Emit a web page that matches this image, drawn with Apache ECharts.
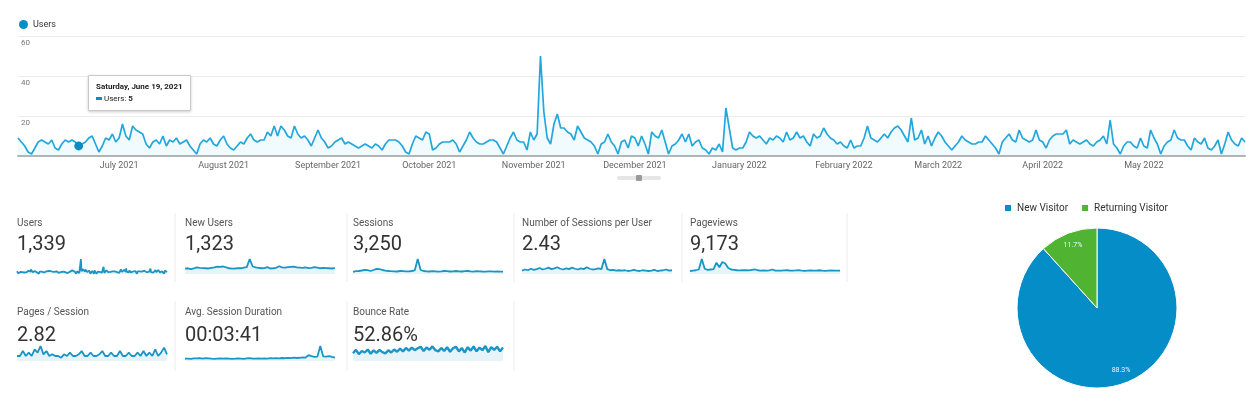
<!DOCTYPE html>
<html>
<head>
<meta charset="utf-8">
<script src="https://cdn.jsdelivr.net/npm/echarts@6/dist/echarts.min.js"></script>
<style>
  html, body { margin: 0; padding: 0; background: #fff; }
  #chart { width: 1251px; height: 417px; }
</style>
</head>
<body>
<div id="chart"></div>
<script>
// daily users, one array per month (Jun 2021 .. May 2022)
const usersJun21 = [9,7,5,2,1,4,7,8,7,6,8,4,3,6,8,7,8,7,5,6,7,9,10,6,2,5,9,8,11,7];
const usersJul21 = [9,16,10,8,15,13,12,11,6,4,7,8,6,10,5,8,7,9,6,7,8,5,3,1,6,8,7,9,6,5,8];
const usersAug21 = [10,6,4,3,5,7,6,9,11,8,7,8,8,12,10,15,10,15,13,10,9,15,11,9,10,8,5,9,13,9,7];
const usersSep21 = [4,5,7,8,9,6,7,6,5,4,5,6,5,4,6,5,3,6,8,8,8,7,5,2,1,6,10,9,8,12];
const usersOct21 = [11,3,4,6,7,7,7,8,6,2,5,8,12,9,7,6,6,7,8,8,7,4,1,5,9,12,8,7,7,3,12];
const usersNov21 = [8,11,50,22,9,6,16,21,14,14,12,11,8,15,12,9,8,7,5,1,6,7,11,7,5,1,7,8,4,10];
const usersDec21 = [9,5,10,6,1,12,10,9,13,7,1,5,6,8,11,7,11,5,7,8,4,3,1,4,3,6,2,24,14,4,3];
const usersJan22 = [4,4,7,12,10,9,10,8,6,9,8,10,9,7,12,8,9,12,9,10,7,5,11,9,10,14,11,9,8,6,7];
const usersFeb22 = [5,4,8,4,5,5,9,15,9,8,7,9,11,9,12,14,15,13,10,7,19,8,9,13,6,10,5,9];
const usersMar22 = [12,10,7,5,3,5,7,10,8,7,6,6,7,7,10,8,6,4,1,7,9,11,8,7,13,9,8,7,8,13,8];
const usersApr22 = [7,4,8,10,11,11,11,13,6,8,7,6,7,8,6,5,7,8,10,6,18,6,4,1,5,7,7,5,4,9];
const usersMay22 = [5,4,13,9,6,1,5,7,8,13,9,8,8,5,3,9,7,6,9,4,3,5,8,1,6,12,8,6,5,9,7];

const users = [].concat(usersJun21, usersJul21, usersAug21, usersSep21, usersOct21, usersNov21,
  usersDec21, usersJan22, usersFeb22, usersMar22, usersApr22, usersMay22);

const yTicks = [0, 20, 40, 60];

// weekly sparkline values for the other metrics
const newUsersWk = [24,26,22,25,30,28,27,26,25,28,30,33,32,34,30,26,24,25,27,26,29,31,68,34,30,28,26,27,31,25,26,28,35,30,29,31,32,33,30,29,28,30,27,28,31,29,26,28,27,26,25,27];
const sessionsWk = [22,28,30,35,42,38,30,40,52,48,40,34,30,28,27,25,30,28,26,27,30,36,150,40,30,27,25,28,27,24,26,30,28,25,27,30,27,25,28,30,26,24,28,27,25,24,27,26,24,25,23,24];
const sessPerUserWk = [9,12,10,14,11,13,16,12,14,17,13,15,18,14,12,15,13,17,14,12,15,13,18,14,12,13,15,13,40,13,10,11,9,10,9,10,8,9,11,9,8,10,9,8,9,11,8,9,10,12,9,10];
const pageviewsWk = [40,45,50,60,200,70,55,60,65,150,90,160,140,80,60,55,50,48,52,50,47,55,62,50,46,48,45,47,60,46,44,45,48,50,46,44,47,52,45,43,46,48,44,45,50,46,43,45,47,44,45,46];
const pagesPerSessWk = [3,3,6,3,5,3,7,5,9,4,6,3,4,3,3,2,4,3,5,3,3,4,6,3,3,5,3,3,4,6,3,3,5,3,3,6,3,3,5,3,3,5,3,6,3,5,3,7,3,5,8,4];
const avgDurWk = [200,210,190,230,220,250,210,240,230,200,190,210,220,200,230,210,190,200,220,210,190,230,240,200,210,220,200,230,210,240,220,250,230,260,240,270,250,300,260,280,320,300,500,420,350,380,1300,400,380,420,350,300];
const bounceWk = [40,58,36,52,44,60,38,55,42,58,46,40,56,44,60,48,64,50,68,54,70,56,66,74,52,70,58,76,56,50,68,52,72,48,66,74,50,68,44,72,54,76,50,70,56,78,46,72,58,74,50,70];

const cardTitles = ['Users', 'New Users', 'Sessions', 'Number of Sessions per User', 'Pageviews',
  'Pages / Session', 'Avg. Session Duration', 'Bounce Rate'];
const cardValues = ['1,339', '1,323', '3,250', '2.43', '9,173', '2.82', '00:03:41', '52.86%'];
const sparkData = [users, newUsersWk, sessionsWk, sessPerUserWk, pageviewsWk, pagesPerSessWk, avgDurWk, bounceWk];

const visitorTypes = ['New Visitor', 'Returning Visitor'];
const visitorCounts = [1323, 175];

const BLUE = '#058dc7';
const GREEN = '#50b432';
const FONT = 'Roboto, Arial, sans-serif';

const startDate = Date.UTC(2021, 5, 1);
const days = users.map((_, i) => new Date(startDate + i * 86400000).toISOString().slice(0, 10));

function fmtDate(s, opts) {
  return new Date(s + 'T00:00:00Z').toLocaleDateString('en-US', Object.assign({ timeZone: 'UTC' }, opts));
}

// card layout
const cardX = [17, 185, 353, 522, 690, 17, 185, 353];
const rowY = [
  { label: 223, value: 245, spark: 259 },
  { label: 312, value: 336, spark: 346 },
];

const grids = [{ left: 18, right: 6, top: 36, bottom: 261 }];
const xAxes = [{
  type: 'category',
  data: days,
  boundaryGap: false,
  axisLine: { lineStyle: { color: '#b5b5b5', width: 2 } },
  axisTick: { show: false },
  axisLabel: {
    interval: (idx, val) => idx > 0 && val.slice(8) === '01',
    formatter: val => fmtDate(val, { month: 'long', year: 'numeric' }),
    fontSize: 9, color: '#666', fontFamily: FONT, margin: 5,
  },
}];
const yAxes = [{
  type: 'value',
  min: yTicks[0],
  max: yTicks[yTicks.length - 1],
  interval: 20,
  axisLine: { show: false },
  axisTick: { show: false },
  splitLine: { lineStyle: { color: '#ececec' } },
  axisLabel: {
    inside: true, showMinLabel: false, verticalAlign: 'top',
    margin: 3, padding: [3, 0, 0, 0],
    fontSize: 8, color: '#777', fontFamily: FONT,
  },
}];

const series = [{
  name: 'Users',
  type: 'line',
  data: users,
  xAxisIndex: 0, yAxisIndex: 0,
  showSymbol: false,
  symbol: 'circle',
  symbolSize: 8,
  color: BLUE,
  lineStyle: { width: 1.7, color: '#1f98c9' },
  areaStyle: { color: 'rgba(5,141,199,0.08)' },
}];

const graphics = [];

sparkData.forEach((d, i) => {
  const row = i < 5 ? rowY[0] : rowY[1];
  grids.push({ left: cardX[i], top: row.spark, width: 150, height: 15 });
  xAxes.push({ type: 'category', gridIndex: i + 1, show: false, boundaryGap: false, data: d.map((_, j) => j) });
  yAxes.push({ type: 'value', gridIndex: i + 1, show: false, min: 0, max: 'dataMax' });
  series.push({
    name: 'spark' + i,
    type: 'line',
    xAxisIndex: i + 1, yAxisIndex: i + 1,
    data: d,
    showSymbol: false,
    silent: true,
    lineStyle: { width: i === 7 ? 2.4 : 1.8, color: '#1b95c6' },
    areaStyle: { color: 'rgba(5,141,199,0.14)' },
  });
  graphics.push({
    type: 'text', x: cardX[i], y: row.label,
    style: { text: cardTitles[i], fill: '#555', font: '10px ' + FONT, verticalAlign: 'middle' },
  });
  graphics.push({
    type: 'text', x: cardX[i], y: row.value,
    style: { text: cardValues[i], fill: '#333', font: '20px ' + FONT, verticalAlign: 'middle' },
  });
});

[175, 347, 514, 682, 847].forEach(x => {
  graphics.push({ type: 'line', shape: { x1: x, y1: 213, x2: x, y2: 282 }, style: { stroke: '#ececec', lineWidth: 1 } });
});
[175, 347, 514].forEach(x => {
  graphics.push({ type: 'line', shape: { x1: x, y1: 301, x2: x, y2: 371 }, style: { stroke: '#ececec', lineWidth: 1 } });
});
// small range handle under the main chart
graphics.push({ type: 'rect', shape: { x: 617, y: 176, width: 44, height: 4, r: 2 }, style: { fill: '#e6e6e6' } });
graphics.push({ type: 'rect', shape: { x: 636, y: 175, width: 6, height: 6, r: 1 }, style: { fill: '#9a9a9a' } });

const pieData = visitorTypes.map((n, i) => ({ name: n, value: visitorCounts[i] }));

series.push({
  name: 'visitors',
  type: 'pie',
  center: [1097, 308],
  radius: [0, 80],
  startAngle: 90,
  percentPrecision: 1,
  data: pieData,
  color: [BLUE, GREEN],
  itemStyle: { borderColor: '#fff', borderWidth: 1 },
  label: { show: false },
  labelLine: { show: false },
  silent: true,
});
// label ring, keeps the percentages near the rim like the original
series.push({
  name: 'visitorLabels',
  type: 'pie',
  center: [1097, 308],
  radius: [0, 128],
  startAngle: 90,
  percentPrecision: 1,
  data: pieData,
  itemStyle: { color: 'rgba(0,0,0,0)' },
  label: { show: true, position: 'inside', formatter: '{d}%', color: '#e8f6ff', fontSize: 7, fontFamily: FONT },
  labelLine: { show: false },
  silent: true,
  z: 3,
});

const chart = echarts.init(document.getElementById('chart'));
chart.setOption({
  animation: false,
  legend: [
    {
      data: ['Users'], left: 14, top: 15,
      icon: 'circle', itemWidth: 9, itemHeight: 9, itemGap: 4,
      textStyle: { fontSize: 9, color: '#333', fontFamily: FONT },
    },
    {
      data: [
        { name: visitorTypes[0], itemStyle: { color: BLUE } },
        { name: visitorTypes[1], itemStyle: { color: GREEN } },
      ],
      left: 998, top: 198,
      icon: 'rect', itemWidth: 8, itemHeight: 8, itemGap: 12,
      textStyle: { fontSize: 10, color: '#333', fontFamily: FONT },
      selectedMode: false,
    },
  ],
  tooltip: {
    trigger: 'axis',
    axisPointer: { type: 'none' },
    alwaysShowContent: true,
    position: [88, 75],
    backgroundColor: '#fff',
    borderColor: '#c8c8c8',
    borderWidth: 1,
    padding: [5, 7],
    textStyle: { fontSize: 8, color: '#222', fontFamily: FONT },
    extraCssText: 'box-shadow:0 1px 3px rgba(0,0,0,0.2);border-radius:1px;line-height:12px;',
    formatter: params => {
      const p = params[0];
      const d = fmtDate(p.axisValue, { weekday: 'long', month: 'long', day: 'numeric', year: 'numeric' });
      return '<b>' + d + '</b><br/>' +
        '<span style="display:inline-block;width:6px;height:3px;background:' + BLUE +
        ';margin-right:2px;vertical-align:middle"></span>Users: <b>' + p.value + '</b>';
    },
  },
  grid: grids,
  xAxis: xAxes,
  yAxis: yAxes,
  series: series,
  graphic: graphics,
});

chart.dispatchAction({ type: 'showTip', seriesIndex: 0, dataIndex: 18 });
</script>
</body>
</html>
